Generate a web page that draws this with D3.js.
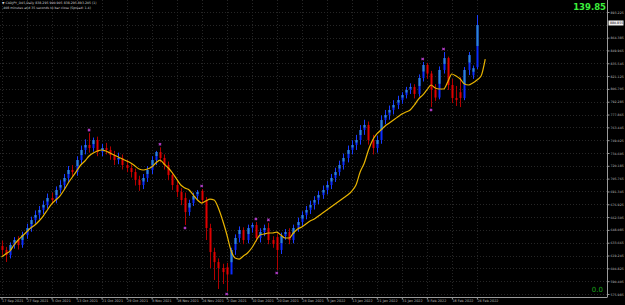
<!DOCTYPE html>
<html>
<head>
<meta charset="utf-8">
<script src="https://cdn.jsdelivr.net/npm/d3@7"></script>
<style>
  html, body { margin: 0; padding: 0; background: #000; }
  svg { display: block; }
</style>
</head>
<body>
<svg id="chart"></svg>
<script>
// daily bars, 17 Sep 2021 .. 24 Feb 2022 (weekdays only)
let startDay = new Date(Date.UTC(2021, 8, 17))
let endDay = new Date(Date.UTC(2022, 1, 25))

let opens = [630.0, 625.5, 619.8, 631.1, 636.7, 631.1, 642.3, 650.2, 659.2, 664.8,
  670.5, 676.1, 684.0, 681.7, 693.0, 698.6, 706.5, 715.5, 713.2, 726.7,
  738.0, 743.6, 740.2, 749.2, 735.7, 740.2, 738.0, 732.3, 726.7, 729.0,
  721.1, 717.7, 713.2, 704.2, 698.6, 706.5, 715.5, 726.7, 735.7, 729.0,
  721.1, 709.8, 698.6, 690.7, 684.0, 668.2, 678.3, 686.2, 692.0, 681.7,
  650.2, 623.2, 611.9, 605.2, 606.0, 598.0, 625.5, 639.0, 648.0, 636.7,
  650.2, 653.6, 639.0, 645.7, 650.2, 636.7, 640.0, 625.5, 641.2, 645.7,
  636.7, 650.2, 657.0, 664.8, 670.5, 676.1, 681.7, 687.3, 693.0, 698.6,
  706.5, 713.2, 721.1, 729.0, 738.0, 743.6, 749.2, 760.5, 766.1, 749.2,
  740.2, 749.2, 771.7, 777.3, 783.0, 788.6, 794.2, 799.8, 805.5, 808.8,
  801.0, 819.0, 833.6, 824.0, 806.0, 797.0, 828.0, 841.4, 811.1, 796.5,
  803.0, 796.5, 828.0, 822.0, 831.3]
let highs = [636, 629, 634, 640, 641, 646, 655, 663, 670, 675,
  681, 689, 690, 697, 704, 711, 720, 721, 731, 743,
  750, 757, 752, 753, 745, 746, 742, 737, 735, 733,
  727, 722, 717, 709, 711, 720, 731, 737, 741, 733,
  725, 713, 703, 695, 690, 682, 690, 693, 694.1, 685,
  655, 628, 616, 610, 611, 628, 643, 652, 651, 654,
  656, 657, 650, 654, 656, 641, 644, 645, 649, 650,
  654, 662, 669, 675, 681, 686, 692, 698, 703, 711,
  718, 726, 734, 743, 749, 755, 766, 772, 770, 755,
  754, 777, 783, 788, 794, 799, 803, 809, 813, 812,
  823, 837, 836, 827, 812, 832, 848.2, 843, 818, 810,
  820, 831.3, 848.2, 833, 889.8]
let lows = [620, 612, 616, 627, 626, 628, 638, 646, 655, 660,
  666, 672, 677, 678, 689, 694, 702, 708, 709, 722,
  733, 735, 736, 731, 731, 733, 727, 721, 722, 716,
  713, 707, 698, 692, 694, 702, 711, 721, 724, 716,
  704, 693, 685, 676, 653.6, 664, 675, 682, 678, 636.7,
  605.2, 591.7, 581.6, 587.2, 579.3, 603, 620, 634, 632, 633,
  645, 635, 634, 641, 632, 628, 603, 621, 637, 632,
  633, 646, 652, 660, 666, 671, 677, 683, 688, 694,
  702, 709, 716, 724, 733, 738, 744, 755, 744, 733,
  735, 745, 767, 772, 778, 784, 790, 796, 801, 796,
  798, 815, 818, 786.3, 793, 795, 824, 805.5, 790.8, 787.5,
  786.3, 794, 822.3, 818, 829]
let closes = [625.5, 619.8, 631.1, 636.7, 631.1, 642.3, 650.2, 659.2, 664.8, 670.5,
  676.1, 684.0, 681.7, 693.0, 698.6, 706.5, 715.5, 713.2, 726.7, 738.0,
  743.6, 740.2, 749.2, 735.7, 740.2, 738.0, 732.3, 726.7, 729.0, 721.1,
  717.7, 713.2, 704.2, 698.6, 706.5, 715.5, 726.7, 735.7, 729.0, 721.1,
  709.8, 698.6, 690.7, 681.7, 668.2, 678.3, 686.2, 690.7, 681.7, 650.2,
  623.2, 611.9, 605.2, 600.7, 598.0, 625.5, 639.0, 648.0, 636.7, 650.2,
  653.6, 639.0, 645.7, 650.2, 636.7, 632.2, 625.5, 641.2, 645.7, 636.7,
  650.2, 657.0, 664.8, 670.5, 676.1, 681.7, 687.3, 693.0, 698.6, 706.5,
  713.2, 721.1, 729.0, 738.0, 743.6, 749.2, 760.5, 766.1, 749.2, 740.2,
  749.2, 771.7, 777.3, 783.0, 788.6, 794.2, 799.8, 805.5, 808.8, 801.0,
  819.0, 833.6, 824.0, 806.0, 797.0, 828.0, 841.4, 811.1, 796.5, 794.2,
  796.5, 828.0, 844.8, 830.0, 878.6]

// yellow moving average, shifted 2 bars forward (so 2 values more than bars)
let maValues = [617.6, 621.0, 624.3, 631.1, 636.7, 641.2, 645.7, 650.2, 653.6, 658.1,
  663.7, 670.5, 677.2, 681.7, 686.2, 693.0, 700.8, 707.6, 714.3, 721.1,
  725.6, 731.2, 734.6, 736.8, 738.0, 736.8, 734.6, 732.3, 730.1, 727.8,
  725.6, 723.3, 720.0, 716.6, 715.5, 716.6, 718.8, 723.3, 726.7, 722.2,
  717.7, 712.1, 705.3, 698.6, 695.2, 693.0, 687.3, 681.7, 678.3, 680.6,
  682.8, 681.7, 672.7, 659.2, 643.5, 625.5, 616.5, 615.3, 618.7, 622.1,
  627.7, 635.6, 642.3, 643.5, 644.6, 644.6, 645.7, 642.3, 639.0, 639.0,
  644.6, 649.1, 651.3, 654.7, 658.1, 660.3, 663.7, 667.1, 670.5, 673.8,
  677.2, 680.6, 684.0, 687.3, 691.8, 698.6, 713.2, 723.3, 738.0, 749.2,
  756.0, 760.5, 765.0, 768.3, 771.7, 775.1, 778.5, 780.7, 783.0, 788.6,
  795.3, 799.8, 805.5, 811.1, 807.7, 806.6, 806.6, 814.5, 823.5, 821.2,
  817.8, 812.2, 811.1, 813.3, 816.7, 821.2, 840.3]

// fractal markers (bar index)
let fractalUp = [21, 38, 48, 61, 64, 101, 106]
let fractalDown = [44, 54, 66, 103]

let priceTicks = [575.985, 590.405, 604.825, 619.245, 633.665, 648.085, 662.505, 676.925,
  691.345, 705.765, 720.185, 734.605, 749.025, 763.445, 777.865, 792.285, 806.705,
  821.125, 835.545, 849.965, 864.385, 878.805, 893.225]
let currentPrice = 880.855

let headerLines = [
  '\u25BC CADJPY_D45,Daily  838.295 900.905 838.295 893.205 (1)',
  '-408 minutes and 35 seconds to bar close  (Spread: 1.4)'
]
let topValue = '139.85'
let bottomValue = '0.0'

let width = 625
let height = 305
let plotRight = 607
let plotBottom = 297

let svg = d3.select('#chart')
let xScale
let yScale
let days

const drawCanvas = () => {
  svg.attr('width', width).attr('height', height)
  svg.append('rect')
    .attr('width', width).attr('height', height)
    .attr('fill', '#000')
}

const getScales = () => {
  days = d3.utcDay.range(startDay, endDay).filter(d => d.getUTCDay() != 0 && d.getUTCDay() != 6)
  xScale = d3.scaleLinear()
    .domain([0, days.length - 1])
    .range([1.5, 476.9])
  yScale = d3.scaleLinear()
    .domain([priceTicks[0], priceTicks[priceTicks.length - 1]])
    .range([294, 12])
}

const drawGrid = () => {
  let g = svg.append('g').attr('class', 'grid')
  let dateIdx = d3.range(0, days.length, 6)
  g.selectAll('.vgrid')
    .data(dateIdx)
    .enter()
    .append('line')
    .attr('x1', d => Math.round(xScale(d)) + 0.5)
    .attr('x2', d => Math.round(xScale(d)) + 0.5)
    .attr('y1', 0)
    .attr('y2', plotBottom)
    .attr('stroke', '#262626')
    .attr('stroke-dasharray', '1,2')
  g.selectAll('.hgrid')
    .data(priceTicks)
    .enter()
    .append('line')
    .attr('x1', 0)
    .attr('x2', plotRight)
    .attr('y1', d => Math.round(yScale(d)) + 0.5)
    .attr('y2', d => Math.round(yScale(d)) + 0.5)
    .attr('stroke', '#262626')
    .attr('stroke-dasharray', '1,2')
}

const drawBars = () => {
  let bars = d3.range(closes.length)
  let g = svg.append('g').attr('class', 'bars')
  // high-low line
  g.selectAll('.wick')
    .data(bars)
    .enter()
    .append('line')
    .attr('x1', i => Math.round(xScale(i)) + 0.5)
    .attr('x2', i => Math.round(xScale(i)) + 0.5)
    .attr('y1', i => yScale(highs[i]))
    .attr('y2', i => yScale(lows[i]))
    .attr('stroke', i => closes[i] >= opens[i] ? '#1a3cff' : '#b00000')
    .attr('stroke-width', 1)
  // body
  g.selectAll('.body')
    .data(bars)
    .enter()
    .append('rect')
    .attr('x', i => Math.round(xScale(i)) - 0.5)
    .attr('width', 2)
    .attr('y', i => yScale(Math.max(opens[i], closes[i])))
    .attr('height', i => Math.max(1, Math.abs(yScale(opens[i]) - yScale(closes[i]))))
    .attr('fill', i => closes[i] >= opens[i] ? '#0a2cff' : '#e00000')
  // lighter upper half of bull bodies
  g.selectAll('.hl')
    .data(bars.filter(i => closes[i] >= opens[i]))
    .enter()
    .append('rect')
    .attr('x', i => Math.round(xScale(i)) - 0.5)
    .attr('width', 2)
    .attr('y', i => yScale(closes[i]))
    .attr('height', i => Math.abs(yScale(opens[i]) - yScale(closes[i])) / 2)
    .attr('fill', '#2d86d2')
}

const drawMA = () => {
  let line = d3.line()
    .x((d, i) => xScale(i))
    .y(d => yScale(d))
    .curve(d3.curveMonotoneX)
  svg.append('path')
    .datum(maValues)
    .attr('d', line)
    .attr('fill', 'none')
    .attr('stroke', '#e8b400')
    .attr('stroke-width', 1.2)
}

const drawFractals = () => {
  let star = d3.symbol().type(d3.symbolCross).size(6)
  svg.selectAll('.fup')
    .data(fractalUp)
    .enter()
    .append('path')
    .attr('d', star)
    .attr('transform', i => `translate(${xScale(i)}, ${yScale(highs[i]) - 3}) rotate(45)`)
    .attr('fill', '#b23cc8')
  svg.selectAll('.fdn')
    .data(fractalDown)
    .enter()
    .append('path')
    .attr('d', star)
    .attr('transform', i => `translate(${xScale(i)}, ${yScale(lows[i]) + 3}) rotate(45)`)
    .attr('fill', '#b23cc8')
}

const generateAxis = () => {
  let cy = yScale(currentPrice)
  // MT4 hides the scale label that sits under the current price box
  let shownTicks = priceTicks.filter(v => Math.abs(yScale(v) - cy) > 5)
  let yAxis = d3.axisRight(yScale)
    .tickValues(shownTicks)
    .tickFormat(d3.format('.3f'))
    .tickSize(2)
  let gy = svg.append('g')
    .attr('transform', `translate(${plotRight + 0.5}, 0)`)
    .call(yAxis)
  gy.select('.domain').attr('stroke', '#9a9a9a').attr('d', `M0,0V${plotBottom}`)
  gy.selectAll('.tick line').attr('stroke', '#9a9a9a')
  gy.selectAll('.tick text')
    .attr('x', 3)
    .attr('fill', '#bdbdbd')
    .style('font', '3.2px "DejaVu Sans"')

  let dateFormat = d3.utcFormat('%-d %b %Y')
  let xAxis = d3.axisBottom(xScale)
    .tickValues(d3.range(0, days.length, 6))
    .tickFormat(i => dateFormat(days[i]))
    .tickSize(2)
  let gx = svg.append('g')
    .attr('transform', `translate(0, ${plotBottom + 0.5})`)
    .call(xAxis)
  gx.select('.domain').attr('stroke', '#9a9a9a').attr('d', `M0,0H${plotRight + 0.5}`)
  gx.selectAll('.tick line').attr('stroke', '#9a9a9a')
  gx.selectAll('.tick text')
    .attr('text-anchor', 'start')
    .attr('y', 2.5)
    .attr('fill', '#bdbdbd')
    .style('font', '3.4px "DejaVu Sans"')

  // current price box
  svg.append('rect')
    .attr('x', plotRight + 1.5).attr('y', cy - 2.5)
    .attr('width', 15).attr('height', 5)
    .attr('fill', '#f0f0f0')
  svg.append('text')
    .attr('x', plotRight + 3).attr('y', cy + 1.2)
    .attr('fill', '#000')
    .style('font', '3.2px "DejaVu Sans"')
    .text(d3.format('.3f')(currentPrice))
}

const drawLabels = () => {
  svg.selectAll('.hdr')
    .data(headerLines)
    .enter()
    .append('text')
    .attr('x', 2)
    .attr('y', (d, i) => 4 + i * 4.5)
    .attr('fill', '#d0d0d0')
    .style('font', '3.2px "DejaVu Sans"')
    .text(d => d)
  svg.append('text')
    .attr('x', 606).attr('y', 10)
    .attr('text-anchor', 'end')
    .attr('fill', '#3cf03c')
    .style('font', 'bold 8.5px "DejaVu Sans"')
    .text(topValue)
  svg.append('text')
    .attr('x', 603).attr('y', 292)
    .attr('text-anchor', 'end')
    .attr('fill', '#1aa31a')
    .style('font', '7px "DejaVu Sans"')
    .text(bottomValue)
}

drawCanvas()
getScales()
drawGrid()
drawBars()
drawMA()
drawFractals()
generateAxis()
drawLabels()
</script>
</body>
</html>
